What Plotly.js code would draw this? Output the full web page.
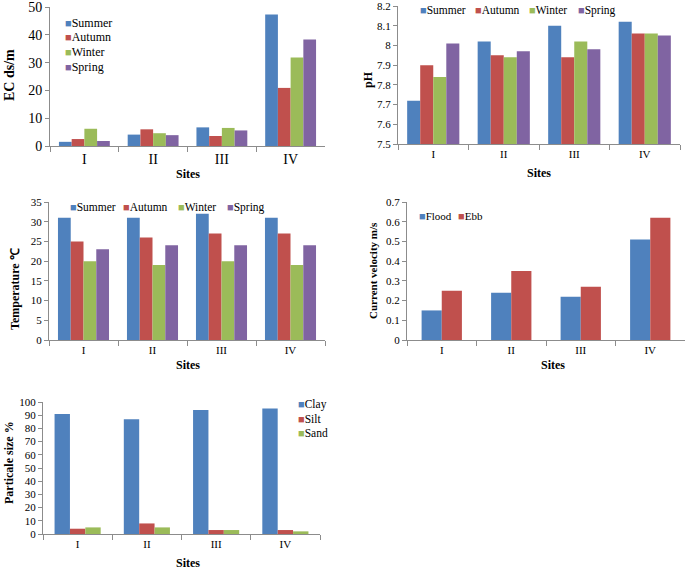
<!DOCTYPE html>
<html><head><meta charset="utf-8">
<script src="https://cdn.plot.ly/plotly-3.0.1.min.js"></script>
<style>body{margin:0;padding:0;background:#fff}#chart{width:685px;height:571px}</style>
</head><body><div id="chart"></div>
<script>
const sites = ['I','II','III','IV'];
const seasons = ['Summer','Autumn','Winter','Spring'];
const ecSummer = [1.5, 4.1, 6.7, 47.3];
const ecAutumn = [2.5, 6.0, 3.6, 20.9];
const ecWinter = [6.2, 4.6, 6.5, 31.8];
const ecSpring = [1.8, 3.9, 5.6, 38.3];
const phSummer = [7.72, 8.02, 8.10, 8.12];
const phAutumn = [7.90, 7.95, 7.94, 8.06];
const phWinter = [7.84, 7.94, 8.02, 8.06];
const phSpring = [8.01, 7.97, 7.98, 8.05];
const tSummer = [31, 31, 32, 31];
const tAutumn = [25, 26, 27, 27];
const tWinter = [20, 19, 20, 19];
const tSpring = [23, 24, 24, 24];
const tides = ['Flood','Ebb'];
const cvFlood = [0.15, 0.24, 0.22, 0.51];
const cvEbb = [0.25, 0.35, 0.27, 0.62];
const fractions = ['Clay','Silt','Sand'];
const clay = [91, 87, 94, 95];
const silt = [4, 8, 3, 3];
const sand = [5, 5, 3, 2];

const W = 685, H = 571;
const colors = ['#4F81BD','#C0504D','#9BBB59','#8064A2'];
const serif = 'Liberation Serif, Times New Roman, serif';
const axisCol = '#8C8C8C';
function xd(a,b){return [a/W, b/W];}
function yd(t,b){return [1-b/H, 1-t/H];}

const traces = [];
function addSet(names, arrays, ax, barW){
  names.forEach((n,i)=>{
    const t = {type:'bar', name:n, x:sites, y:arrays[i], xaxis:'x'+ax, yaxis:'y'+ax,
      marker:{color:colors[i], line:{width:0}}, hoverinfo:'y', showlegend:false};
    if(barW){ t.width = barW; t.offset = -barW*names.length/2 + i*barW; }
    traces.push(t);
  });
}
addSet(seasons,[ecSummer,ecAutumn,ecWinter,ecSpring],'');
addSet(seasons,[phSummer,phAutumn,phWinter,phSpring],'2');
addSet(seasons,[tSummer,tAutumn,tWinter,tSpring],'3');
addSet(tides,[cvFlood,cvEbb],'4', 0.29);
addSet(fractions,[clay,silt,sand],'5', 0.222);

function xa(dom, anchor, fs){
  return {domain:dom, anchor:anchor, type:'category', showline:true, linecolor:axisCol, linewidth:1,
    ticks:'outside', tickson:'boundaries', ticklen:5, tickcolor:axisCol, showgrid:false, zeroline:false,
    tickfont:{family:serif, size:fs, color:'#000'}, fixedrange:true};
}
function ya(dom, anchor, range, dtick, fs){
  return {domain:dom, anchor:anchor, range:range, dtick:dtick, tick0:range[0], showline:true, linecolor:axisCol, linewidth:1,
    ticks:'outside', ticklen:4, tickcolor:axisCol, showgrid:false, zeroline:false, ticklabeloverflow:'allow',
    tickfont:{family:serif, size:fs, color:'#000'}, fixedrange:true};
}
function ann(text, px, py, size, rot){
  return {text:text, x:px/W, y:1-py/H, xref:'paper', yref:'paper', showarrow:false, textangle:rot||0,
    xanchor:'center', yanchor:'middle', font:{family:serif, size:size, color:'#000', weight:'bold'}};
}
const annotations = [
  ann('EC ds/m', 9, 75, 14, -90),
  ann('Sites', 188, 174, 12),
  ann('pH', 368, 80, 12, -90),
  ann('Sites', 539, 173, 12),
  ann('Temperature ℃', 15, 289, 12, -90),
  ann('Sites', 188, 365, 12),
  ann('Current velocity m/s', 373, 271, 11, -90),
  ann('Sites', 553, 365, 12),
  ann('Particale size %', 9, 463, 12, -90),
  ann('Sites', 188, 563, 12)
];
// legends (Excel style: small square + label)
function legendItems(names, xs, ys, fs){
  names.forEach((n,i)=>{
    annotations.push({text:'<span style="font-size:11px;color:'+colors[i]+'">■</span>'+n,
      x:xs[i]/W, y:1-ys[i]/H, xref:'paper', yref:'paper', showarrow:false, xanchor:'left', yanchor:'middle',
      font:{family:serif, size:fs, color:'#000'}});
  });
}
legendItems(seasons, [63,63,63,63], [23,37,52,67], 12);
legendItems(seasons, [418,473,527,576], [10,10,10,10], 11.5);
legendItems(seasons, [68,121,176,225], [207,207,207,207], 11.5);
legendItems(tides, [417,456], [216,216], 11);
legendItems(fractions, [296,296,296], [404,419,433], 11.5);

const layout = {
  width:W, height:H, margin:{l:0,r:0,t:0,b:0}, paper_bgcolor:'#fff', plot_bgcolor:'rgba(0,0,0,0)',
  barmode:'group', bargap:0.26, bargroupgap:0, showlegend:false,
  xaxis: xa(xd(50,325),'y',14),
  yaxis: ya(yd(7,146),'x',[0,50],10,14),
  xaxis2: xa(xd(398,680),'y2',11),
  yaxis2: ya(yd(6,144),'x2',[7.5,8.2],0.1,11),
  xaxis3: xa(xd(49,325),'y3',11),
  yaxis3: ya(yd(202,340),'x3',[0,35],5,11),
  xaxis4: xa(xd(407,685),'y4',11),
  yaxis4: ya(yd(202,340),'x4',[0,0.7],0.1,11),
  xaxis5: xa(xd(43,320),'y5',11),
  yaxis5: ya(yd(402,534),'x5',[0,100],10,11),
  annotations: annotations
};
Plotly.newPlot('chart', traces, layout, {staticPlot:true, displayModeBar:false});
</script></body></html>
